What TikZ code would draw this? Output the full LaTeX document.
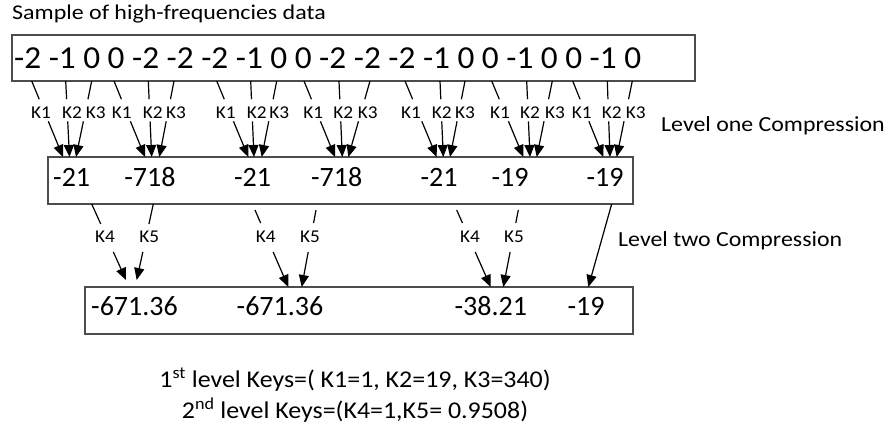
\documentclass[tikz,border=0pt]{standalone}
\usepackage{fontspec}
\setmainfont{Carlito}
\newfontfamily\titlefam[FakeStretch=1.14]{Carlito}
\newfontfamily\kfam[FakeStretch=1.07]{Carlito}
\newfontfamily\capfam[FakeStretch=1.11]{Carlito}
\newfontfamily\keyfam[FakeStretch=1.08]{Carlito}
\newfontfamily\datafam[FakeStretch=1.04]{Carlito}
\usetikzlibrary{calc,arrows.meta}
\tikzset{
  databox/.style={draw=black!70, line width=1.3pt},
  conn/.style={line width=1.2pt, black},
  arr/.style={conn, -{Triangle[length=12pt,width=10pt]}},
  klab/.style={inner sep=0pt, font=\kfam\fontsize{18}{21}\selectfont},
  big/.style={inner sep=0pt, font=\datafam\fontsize{32}{38}\selectfont},
  mid/.style={inner sep=0pt, font=\fontsize{28}{33}\selectfont},
  caption/.style={inner sep=0pt, font=\capfam\fontsize{21.5}{26}\selectfont},
  keytext/.style={inner sep=0pt, font=\keyfam\fontsize{24}{28}\selectfont},
}
\begin{document}
\begin{tikzpicture}[x=1pt,y=-1pt]
\useasboundingbox (0,0) rectangle (888,430);

% title
\node[inner sep=0pt, anchor=west, font=\titlefam\fontsize{21}{25}\selectfont] (title) at (12,14) {Sample of high-frequencies data};

% boxes
\draw[databox] (12,35) rectangle (695,81);
\draw[databox] (48,157) rectangle (633,204);
\draw[databox] (85,287) rectangle (633,334);

% top data
\node[big, anchor=west] (data) at (14,58) {-2 -1 0 0 -2 -2 -2 -1 0 0 -2 -2 -2 -1 0 0 -1 0 0 -1 0};

% middle values
\foreach \x/\t [count=\i] in {71.7/-21, 150/-718, 252.5/-21, 336.7/-718, 439/-21, 510/-19, 605/-19}
  \node[mid] (m\i) at (\x,177) {\t};

% bottom values
\foreach \x/\t [count=\i] in {134.5/-671.36, 280/-671.36, 490.8/-38.21, 586/-19}
  \node[mid] (b\i) at (\x,306) {\t};

% level one arrows
\foreach \sx/\ex/\lab/\lx [count=\i] in {
  31.7/63/K1/41, 65.7/69.5/K2/72, 91.7/76/K3/95.8,
  114/145/K1/121.7, 148.3/151.7/K2/152.7, 174/159.3/K3/176,
  216.7/248.3/K1/225.7, 250.7/254/K2/256.7, 276.7/261.7/K3/279.3,
  304/335/K1/313.3, 339/342.3/K2/343.3, 370/348.3/K3/367.7,
  405/436.7/K1/411, 440/443.3/K2/441.7, 465/450/K3/465,
  491.7/523.3/K1/500, 526.7/530/K2/530, 552.3/536.7/K3/555,
  572.7/603.3/K1/581.7, 607.3/610/K2/611.7, 632.3/616.7/K3/635.7}
{
  \coordinate (s\i) at (\sx,81);
  \coordinate (e\i) at (\ex,157);
  \draw[conn] (s\i) -- ($(s\i)!0.24!(e\i)$);
  \draw[arr] ($(s\i)!0.53!(e\i)$) -- (e\i);
  \node[klab] (k\i) at (\lx,112.5) {\lab};
}

% level two arrows
\foreach \sx/\sy/\ex/\ey/\fa/\fb/\lab/\lx [count=\i] in {
  91.7/204/126/280/0.263/0.63/K4/105,
  153.3/204/136.7/280/0.263/0.63/K5/149.3,
  255/210/288.3/287/0.17/0.545/K4/265.7,
  316/210/301.7/287/0.17/0.545/K5/310,
  456.7/210/490.7/287/0.17/0.545/K4/470,
  518.3/210/503.3/287/0.17/0.545/K5/514}
{
  \coordinate (t\i) at (\sx,\sy);
  \coordinate (u\i) at (\ex,\ey);
  \draw[conn] (t\i) -- ($(t\i)!\fa!(u\i)$);
  \draw[arr] ($(t\i)!\fb!(u\i)$) -- (u\i);
  \node[klab] (q\i) at (\lx,237) {\lab};
}
\coordinate (t7) at (611.7,204);
\coordinate (u7) at (588.3,287);
\draw[arr] (t7) -- (u7);

% level labels
\node[caption, anchor=west] (l1) at (661,126) {Level one Compression};
\node[caption, anchor=west] (l2) at (618,241) {Level two Compression};

% keys
\node[keytext] (key1) at (355,380) {1\textsuperscript{st} level Keys=( K1=1, K2=19, K3=340)};
\node[keytext] (key2) at (355,410) {2\textsuperscript{nd} level Keys=(K4=1,K5= 0.9508)};
\end{tikzpicture}
\end{document}
